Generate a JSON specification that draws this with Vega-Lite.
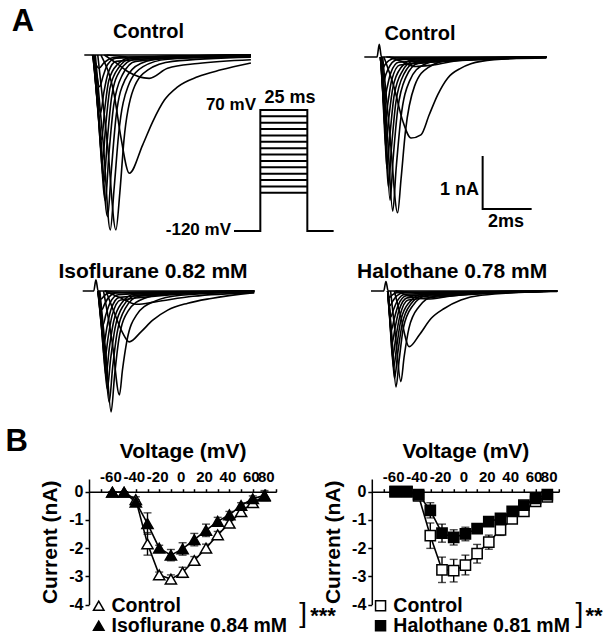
{
"$schema":"https://vega.github.io/schema/vega-lite/v6.json",
"autosize":{"type":"pad"},
"padding":{"left":5,"top":0,"right":0,"bottom":0},
"background":"white",
"bounds":"flush",
"spacing":59,
"resolve":{"scale":{"fill":"independent"},"legend":{"fill":"independent"}},
"config":{"font":"Liberation Sans","view":{"stroke":null},"text":{"font":"Liberation Sans","color":"black"},
"axis":{"labelFont":"Liberation Sans","titleFont":"Liberation Sans","labelFontWeight":"bold","titleFontWeight":"bold","labelColor":"black","titleColor":"black","domainColor":"black","tickColor":"black","grid":false,"domainWidth":1.5,"tickWidth":1.5}},
"datasets":{
"cL":[
{"v":-60,"t":0,"i":0},{"v":-60,"t":6.8,"i":0},
{"v":-50,"t":0.9,"i":0},{"v":-50,"t":2.0,"i":-0.04},{"v":-50,"t":4,"i":-0.05},{"v":-50,"t":6.8,"i":-0.03},
{"v":-40,"t":0.82,"i":0},{"v":-40,"t":1.3,"i":-0.15},{"v":-40,"t":1.77,"i":-0.31},{"v":-40,"t":2.65,"i":-0.44},{"v":-40,"t":3.4,"i":-0.25},{"v":-40,"t":4.63,"i":-0.16},{"v":-40,"t":6.8,"i":-0.09},
{"v":-30,"t":0.68,"i":0},{"v":-30,"t":1.22,"i":-0.75},{"v":-30,"t":1.5,"i":-1.57},{"v":-30,"t":1.84,"i":-2.23},{"v":-30,"t":2.38,"i":-1.7},{"v":-30,"t":2.79,"i":-1.26},{"v":-30,"t":3.27,"i":-0.85},{"v":-30,"t":3.81,"i":-0.6},{"v":-30,"t":4.63,"i":-0.41},{"v":-30,"t":5.58,"i":-0.28},{"v":-30,"t":6.8,"i":-0.15},
{"v":-20,"t":0.55,"i":0},{"v":-20,"t":0.95,"i":-1.7},{"v":-20,"t":1.29,"i":-3.3},{"v":-20,"t":1.45,"i":-2.6},{"v":-20,"t":1.62,"i":-1.6},{"v":-20,"t":2.0,"i":-0.65},{"v":-20,"t":2.6,"i":-0.28},{"v":-20,"t":3.6,"i":-0.12},{"v":-20,"t":6.8,"i":-0.04},
{"v":-10,"t":0.45,"i":0},{"v":-10,"t":0.78,"i":-1.7},{"v":-10,"t":1.06,"i":-3.3},{"v":-10,"t":1.22,"i":-2.5},{"v":-10,"t":1.4,"i":-1.5},{"v":-10,"t":1.78,"i":-0.6},{"v":-10,"t":2.4,"i":-0.22},{"v":-10,"t":3.4,"i":-0.08},{"v":-10,"t":6.8,"i":-0.02},
{"v":0,"t":0.4,"i":0},{"v":0,"t":0.68,"i":-1.6},{"v":0,"t":0.95,"i":-3.05},{"v":0,"t":1.1,"i":-2.2},{"v":0,"t":1.3,"i":-1.15},{"v":0,"t":1.65,"i":-0.48},{"v":0,"t":2.3,"i":-0.16},{"v":0,"t":3.4,"i":-0.05},{"v":0,"t":6.8,"i":0},
{"v":10,"t":0.38,"i":0},{"v":10,"t":0.62,"i":-1.4},{"v":10,"t":0.86,"i":-2.75},{"v":10,"t":1.0,"i":-1.9},{"v":10,"t":1.2,"i":-0.95},{"v":10,"t":1.55,"i":-0.38},{"v":10,"t":2.1,"i":-0.12},{"v":10,"t":6.8,"i":0},
{"v":20,"t":0.37,"i":0},{"v":20,"t":0.58,"i":-1.2},{"v":20,"t":0.8,"i":-2.4},{"v":20,"t":0.94,"i":-1.6},{"v":20,"t":1.12,"i":-0.78},{"v":20,"t":1.45,"i":-0.3},{"v":20,"t":2.0,"i":-0.09},{"v":20,"t":6.8,"i":0},
{"v":30,"t":0.36,"i":0},{"v":30,"t":0.55,"i":-1.0},{"v":30,"t":0.74,"i":-2.0},{"v":30,"t":0.88,"i":-1.3},{"v":30,"t":1.05,"i":-0.62},{"v":30,"t":1.4,"i":-0.24},{"v":30,"t":1.9,"i":-0.07},{"v":30,"t":6.8,"i":0},
{"v":40,"t":0.35,"i":0},{"v":40,"t":0.52,"i":-0.8},{"v":40,"t":0.7,"i":-1.6},{"v":40,"t":0.84,"i":-1.0},{"v":40,"t":1.0,"i":-0.48},{"v":40,"t":1.35,"i":-0.18},{"v":40,"t":1.9,"i":-0.05},{"v":40,"t":6.8,"i":0},
{"v":50,"t":0.34,"i":0},{"v":50,"t":0.5,"i":-0.55},{"v":50,"t":0.66,"i":-1.1},{"v":50,"t":0.8,"i":-0.7},{"v":50,"t":0.98,"i":-0.33},{"v":50,"t":1.3,"i":-0.12},{"v":50,"t":6.8,"i":0},
{"v":60,"t":0.34,"i":0},{"v":60,"t":0.48,"i":-0.3},{"v":60,"t":0.62,"i":-0.6},{"v":60,"t":0.78,"i":-0.38},{"v":60,"t":0.95,"i":-0.18},{"v":60,"t":1.3,"i":-0.06},{"v":60,"t":6.8,"i":0},
{"v":70,"t":0.33,"i":0},{"v":70,"t":0.6,"i":-0.25},{"v":70,"t":0.8,"i":-0.15},{"v":70,"t":1.2,"i":-0.05},{"v":70,"t":6.8,"i":0}
],
"cR":[
{"v":-60,"t":0,"i":0},{"v":-60,"t":0.52,"i":0},{"v":-60,"t":0.61,"i":0.24},{"v":-60,"t":0.7,"i":0},{"v":-60,"t":7.43,"i":0},
{"v":-50,"t":0.9,"i":0},{"v":-50,"t":2,"i":-0.03},{"v":-50,"t":7.43,"i":-0.01},
{"v":-40,"t":1.0,"i":0},{"v":-40,"t":1.5,"i":-0.08},{"v":-40,"t":2.1,"i":-0.18},{"v":-40,"t":2.8,"i":-0.15},{"v":-40,"t":4.0,"i":-0.06},{"v":-40,"t":7.43,"i":-0.02},
{"v":-30,"t":0.8,"i":0},{"v":-30,"t":1.22,"i":-0.58},{"v":-30,"t":1.57,"i":-1.21},{"v":-30,"t":1.91,"i":-1.53},{"v":-30,"t":2.31,"i":-1.47},{"v":-30,"t":2.65,"i":-1.09},{"v":-30,"t":3.0,"i":-0.71},{"v":-30,"t":3.4,"i":-0.4},{"v":-30,"t":3.95,"i":-0.21},{"v":-30,"t":4.35,"i":-0.13},{"v":-30,"t":5.3,"i":-0.05},{"v":-30,"t":7.43,"i":-0.01},
{"v":-20,"t":0.75,"i":0},{"v":-20,"t":1.05,"i":-1.5},{"v":-20,"t":1.36,"i":-2.94},{"v":-20,"t":1.5,"i":-2.3},{"v":-20,"t":1.68,"i":-1.4},{"v":-20,"t":2.05,"i":-0.55},{"v":-20,"t":2.6,"i":-0.2},{"v":-20,"t":3.5,"i":-0.06},{"v":-20,"t":7.43,"i":0},
{"v":-10,"t":0.72,"i":0},{"v":-10,"t":0.95,"i":-1.5},{"v":-10,"t":1.16,"i":-2.91},{"v":-10,"t":1.3,"i":-2.1},{"v":-10,"t":1.48,"i":-1.2},{"v":-10,"t":1.85,"i":-0.45},{"v":-10,"t":2.4,"i":-0.15},{"v":-10,"t":3.3,"i":-0.04},{"v":-10,"t":7.43,"i":0},
{"v":0,"t":0.7,"i":0},{"v":0,"t":0.88,"i":-1.35},{"v":0,"t":1.05,"i":-2.7},{"v":0,"t":1.18,"i":-1.9},{"v":0,"t":1.36,"i":-1.0},{"v":0,"t":1.7,"i":-0.38},{"v":0,"t":2.2,"i":-0.12},{"v":0,"t":7.43,"i":0},
{"v":10,"t":0.69,"i":0},{"v":10,"t":0.84,"i":-1.2},{"v":10,"t":0.98,"i":-2.45},{"v":10,"t":1.11,"i":-1.7},{"v":10,"t":1.29,"i":-0.85},{"v":10,"t":1.62,"i":-0.32},{"v":10,"t":2.1,"i":-0.1},{"v":10,"t":7.43,"i":0},
{"v":20,"t":0.68,"i":0},{"v":20,"t":0.81,"i":-1.05},{"v":20,"t":0.92,"i":-2.1},{"v":20,"t":1.05,"i":-1.45},{"v":20,"t":1.22,"i":-0.72},{"v":20,"t":1.55,"i":-0.27},{"v":20,"t":2.0,"i":-0.08},{"v":20,"t":7.43,"i":0},
{"v":30,"t":0.67,"i":0},{"v":30,"t":0.78,"i":-0.85},{"v":30,"t":0.87,"i":-1.7},{"v":30,"t":1.0,"i":-1.15},{"v":30,"t":1.17,"i":-0.57},{"v":30,"t":1.5,"i":-0.2},{"v":30,"t":1.95,"i":-0.06},{"v":30,"t":7.43,"i":0},
{"v":40,"t":0.66,"i":0},{"v":40,"t":0.75,"i":-0.65},{"v":40,"t":0.83,"i":-1.3},{"v":40,"t":0.96,"i":-0.88},{"v":40,"t":1.12,"i":-0.43},{"v":40,"t":1.45,"i":-0.15},{"v":40,"t":7.43,"i":0},
{"v":50,"t":0.66,"i":0},{"v":50,"t":0.73,"i":-0.45},{"v":50,"t":0.79,"i":-0.9},{"v":50,"t":0.92,"i":-0.6},{"v":50,"t":1.08,"i":-0.3},{"v":50,"t":1.4,"i":-0.1},{"v":50,"t":7.43,"i":0},
{"v":60,"t":0.65,"i":0},{"v":60,"t":0.71,"i":-0.25},{"v":60,"t":0.76,"i":-0.5},{"v":60,"t":0.88,"i":-0.33},{"v":60,"t":1.05,"i":-0.16},{"v":60,"t":1.35,"i":-0.05},{"v":60,"t":7.43,"i":0},
{"v":70,"t":0.65,"i":0},{"v":70,"t":0.73,"i":-0.22},{"v":70,"t":0.85,"i":-0.14},{"v":70,"t":1.0,"i":-0.07},{"v":70,"t":1.3,"i":-0.02},{"v":70,"t":7.43,"i":0}
],
"iso":[
{"v":-60,"t":0,"i":0},{"v":-60,"t":0.45,"i":0},{"v":-60,"t":0.54,"i":0.21},{"v":-60,"t":0.63,"i":0},{"v":-60,"t":7.0,"i":0},
{"v":-50,"t":0.9,"i":0},{"v":-50,"t":2,"i":-0.04},{"v":-50,"t":7,"i":-0.02},
{"v":-40,"t":0.9,"i":0},{"v":-40,"t":1.5,"i":-0.12},{"v":-40,"t":2.2,"i":-0.25},{"v":-40,"t":3.0,"i":-0.2},{"v":-40,"t":4.5,"i":-0.1},{"v":-40,"t":7.0,"i":-0.03},
{"v":-30,"t":0.95,"i":0},{"v":-30,"t":1.29,"i":-0.41},{"v":-30,"t":1.63,"i":-0.79},{"v":-30,"t":1.9,"i":-0.96},{"v":-30,"t":2.38,"i":-0.77},{"v":-30,"t":2.86,"i":-0.55},{"v":-30,"t":3.47,"i":-0.36},{"v":-30,"t":4.29,"i":-0.23},{"v":-30,"t":5.24,"i":-0.14},{"v":-30,"t":7.0,"i":-0.03},
{"v":-20,"t":0.85,"i":0},{"v":-20,"t":1.2,"i":-0.95},{"v":-20,"t":1.5,"i":-1.96},{"v":-20,"t":1.62,"i":-1.5},{"v":-20,"t":1.8,"i":-0.95},{"v":-20,"t":2.2,"i":-0.45},{"v":-20,"t":2.9,"i":-0.2},{"v":-20,"t":4.0,"i":-0.08},{"v":-20,"t":7.0,"i":-0.02},
{"v":-10,"t":0.7,"i":0},{"v":-10,"t":0.95,"i":-1.2},{"v":-10,"t":1.16,"i":-2.28},{"v":-10,"t":1.3,"i":-1.6},{"v":-10,"t":1.48,"i":-0.9},{"v":-10,"t":1.85,"i":-0.38},{"v":-10,"t":2.5,"i":-0.14},{"v":-10,"t":3.5,"i":-0.05},{"v":-10,"t":7.0,"i":0},
{"v":0,"t":0.66,"i":0},{"v":0,"t":0.88,"i":-1.05},{"v":0,"t":1.08,"i":-2.1},{"v":0,"t":1.22,"i":-1.45},{"v":0,"t":1.4,"i":-0.8},{"v":0,"t":1.75,"i":-0.32},{"v":0,"t":2.3,"i":-0.1},{"v":0,"t":7.0,"i":0},
{"v":10,"t":0.64,"i":0},{"v":10,"t":0.83,"i":-0.92},{"v":10,"t":1.0,"i":-1.85},{"v":10,"t":1.14,"i":-1.28},{"v":10,"t":1.32,"i":-0.7},{"v":10,"t":1.67,"i":-0.27},{"v":10,"t":2.2,"i":-0.08},{"v":10,"t":7.0,"i":0},
{"v":20,"t":0.63,"i":0},{"v":20,"t":0.79,"i":-0.8},{"v":20,"t":0.95,"i":-1.6},{"v":20,"t":1.08,"i":-1.1},{"v":20,"t":1.26,"i":-0.58},{"v":20,"t":1.6,"i":-0.22},{"v":20,"t":2.1,"i":-0.06},{"v":20,"t":7.0,"i":0},
{"v":30,"t":0.62,"i":0},{"v":30,"t":0.76,"i":-0.65},{"v":30,"t":0.9,"i":-1.3},{"v":30,"t":1.03,"i":-0.9},{"v":30,"t":1.2,"i":-0.46},{"v":30,"t":1.55,"i":-0.17},{"v":30,"t":7.0,"i":0},
{"v":40,"t":0.62,"i":0},{"v":40,"t":0.74,"i":-0.5},{"v":40,"t":0.86,"i":-1.0},{"v":40,"t":0.99,"i":-0.68},{"v":40,"t":1.16,"i":-0.34},{"v":40,"t":1.5,"i":-0.12},{"v":40,"t":7.0,"i":0},
{"v":50,"t":0.62,"i":0},{"v":50,"t":0.72,"i":-0.33},{"v":50,"t":0.82,"i":-0.65},{"v":50,"t":0.95,"i":-0.44},{"v":50,"t":1.12,"i":-0.22},{"v":50,"t":1.45,"i":-0.07},{"v":50,"t":7.0,"i":0},
{"v":60,"t":0.62,"i":0},{"v":60,"t":0.7,"i":-0.18},{"v":60,"t":0.78,"i":-0.35},{"v":60,"t":0.9,"i":-0.24},{"v":60,"t":1.08,"i":-0.11},{"v":60,"t":1.4,"i":-0.03},{"v":60,"t":7.0,"i":0},
{"v":70,"t":0.62,"i":0},{"v":70,"t":0.75,"i":-0.15},{"v":70,"t":0.88,"i":-0.09},{"v":70,"t":1.05,"i":-0.04},{"v":70,"t":7.0,"i":0}
],
"hal":[
{"v":-60,"t":0,"i":0},{"v":-60,"t":0.52,"i":0},{"v":-60,"t":0.61,"i":0.18},{"v":-60,"t":0.7,"i":0},{"v":-60,"t":7.6,"i":0},
{"v":-50,"t":1.0,"i":0},{"v":-50,"t":2.2,"i":-0.03},{"v":-50,"t":7.6,"i":-0.01},
{"v":-40,"t":1.0,"i":0},{"v":-40,"t":1.6,"i":-0.1},{"v":-40,"t":2.3,"i":-0.15},{"v":-40,"t":3.2,"i":-0.1},{"v":-40,"t":4.5,"i":-0.04},{"v":-40,"t":7.6,"i":0},
{"v":-30,"t":0.95,"i":0},{"v":-30,"t":1.2,"i":-0.45},{"v":-30,"t":1.56,"i":-1.05},{"v":-30,"t":1.97,"i":-0.83},{"v":-30,"t":2.45,"i":-0.52},{"v":-30,"t":2.99,"i":-0.33},{"v":-30,"t":3.67,"i":-0.17},{"v":-30,"t":4.49,"i":-0.08},{"v":-30,"t":7.6,"i":0},
{"v":-20,"t":0.8,"i":0},{"v":-20,"t":1.0,"i":-0.85},{"v":-20,"t":1.22,"i":-1.71},{"v":-20,"t":1.35,"i":-1.25},{"v":-20,"t":1.55,"i":-0.7},{"v":-20,"t":1.95,"i":-0.3},{"v":-20,"t":2.6,"i":-0.1},{"v":-20,"t":7.6,"i":0},
{"v":-10,"t":0.7,"i":0},{"v":-10,"t":0.86,"i":-0.9},{"v":-10,"t":1.02,"i":-1.81},{"v":-10,"t":1.15,"i":-1.3},{"v":-10,"t":1.32,"i":-0.7},{"v":-10,"t":1.7,"i":-0.28},{"v":-10,"t":2.3,"i":-0.08},{"v":-10,"t":7.6,"i":0},
{"v":0,"t":0.69,"i":0},{"v":0,"t":0.83,"i":-0.82},{"v":0,"t":0.96,"i":-1.65},{"v":0,"t":1.09,"i":-1.18},{"v":0,"t":1.27,"i":-0.63},{"v":0,"t":1.62,"i":-0.25},{"v":0,"t":2.2,"i":-0.07},{"v":0,"t":7.6,"i":0},
{"v":10,"t":0.68,"i":0},{"v":10,"t":0.8,"i":-0.72},{"v":10,"t":0.92,"i":-1.45},{"v":10,"t":1.05,"i":-1.04},{"v":10,"t":1.22,"i":-0.55},{"v":10,"t":1.57,"i":-0.21},{"v":10,"t":2.1,"i":-0.06},{"v":10,"t":7.6,"i":0},
{"v":20,"t":0.68,"i":0},{"v":20,"t":0.78,"i":-0.62},{"v":20,"t":0.88,"i":-1.25},{"v":20,"t":1.01,"i":-0.89},{"v":20,"t":1.18,"i":-0.47},{"v":20,"t":1.52,"i":-0.17},{"v":20,"t":7.6,"i":0},
{"v":30,"t":0.68,"i":0},{"v":30,"t":0.77,"i":-0.5},{"v":30,"t":0.85,"i":-1.0},{"v":30,"t":0.98,"i":-0.7},{"v":30,"t":1.14,"i":-0.37},{"v":30,"t":1.48,"i":-0.13},{"v":30,"t":7.6,"i":0},
{"v":40,"t":0.68,"i":0},{"v":40,"t":0.75,"i":-0.37},{"v":40,"t":0.82,"i":-0.75},{"v":40,"t":0.95,"i":-0.52},{"v":40,"t":1.11,"i":-0.27},{"v":40,"t":1.44,"i":-0.09},{"v":40,"t":7.6,"i":0},
{"v":50,"t":0.68,"i":0},{"v":50,"t":0.74,"i":-0.25},{"v":50,"t":0.79,"i":-0.5},{"v":50,"t":0.92,"i":-0.35},{"v":50,"t":1.08,"i":-0.18},{"v":50,"t":1.4,"i":-0.06},{"v":50,"t":7.6,"i":0},
{"v":60,"t":0.68,"i":0},{"v":60,"t":0.72,"i":-0.14},{"v":60,"t":0.76,"i":-0.28},{"v":60,"t":0.89,"i":-0.19},{"v":60,"t":1.05,"i":-0.09},{"v":60,"t":1.35,"i":-0.03},{"v":60,"t":7.6,"i":0},
{"v":70,"t":0.68,"i":0},{"v":70,"t":0.75,"i":-0.12},{"v":70,"t":0.88,"i":-0.07},{"v":70,"t":1.05,"i":-0.03},{"v":70,"t":7.6,"i":0}
],
"prot":[{"k":0,"t":0,"mv":-120},{"k":1,"t":14,"mv":-120},{"k":2,"t":14,"mv":70},{"k":3,"t":39,"mv":70},{"k":4,"t":39,"mv":-120},{"k":5,"t":53,"mv":-120}],
"steps":[{"mv":-60},{"mv":-50},{"mv":-40},{"mv":-30},{"mv":-20},{"mv":-10},{"mv":0},{"mv":10},{"mv":20},{"mv":30},{"mv":40},{"mv":50},{"mv":60}],
"sbar":[{"k":0,"t":4.83,"i":-1.868},{"k":1,"t":4.83,"i":-2.868},{"k":2,"t":6.83,"i":-2.868}],
"ivI":[
{"s":"Control","v":-60,"i":-0.02,"e":0.02},{"s":"Control","v":-50,"i":-0.02,"e":0.02},{"s":"Control","v":-40,"i":-0.28,"e":0.1},{"s":"Control","v":-30,"i":-1.85,"e":0.4},{"s":"Control","v":-20,"i":-2.95,"e":0.1},{"s":"Control","v":-10,"i":-3.1,"e":0.15},{"s":"Control","v":0,"i":-2.86,"e":0.18},{"s":"Control","v":10,"i":-2.44,"e":0.14},{"s":"Control","v":20,"i":-2.0,"e":0.14},{"s":"Control","v":30,"i":-1.53,"e":0.12},{"s":"Control","v":40,"i":-1.12,"e":0.1},{"s":"Control","v":50,"i":-0.71,"e":0.1},{"s":"Control","v":60,"i":-0.39,"e":0.1},{"s":"Control","v":70,"i":-0.16,"e":0.15},
{"s":"Isoflurane 0.84 mM","v":-60,"i":-0.02,"e":0.02},{"s":"Isoflurane 0.84 mM","v":-50,"i":-0.02,"e":0.02},{"s":"Isoflurane 0.84 mM","v":-40,"i":-0.37,"e":0.08},{"s":"Isoflurane 0.84 mM","v":-30,"i":-1.13,"e":0.38},{"s":"Isoflurane 0.84 mM","v":-20,"i":-2.0,"e":0.1},{"s":"Isoflurane 0.84 mM","v":-10,"i":-2.25,"e":0.2},{"s":"Isoflurane 0.84 mM","v":0,"i":-2.03,"e":0.22},{"s":"Isoflurane 0.84 mM","v":10,"i":-1.7,"e":0.22},{"s":"Isoflurane 0.84 mM","v":20,"i":-1.37,"e":0.22},{"s":"Isoflurane 0.84 mM","v":30,"i":-1.05,"e":0.14},{"s":"Isoflurane 0.84 mM","v":40,"i":-0.82,"e":0.12},{"s":"Isoflurane 0.84 mM","v":50,"i":-0.49,"e":0.1},{"s":"Isoflurane 0.84 mM","v":60,"i":-0.25,"e":0.1},{"s":"Isoflurane 0.84 mM","v":70,"i":-0.13,"e":0.17}
],
"ivH":[
{"s":"Control","v":-60,"i":0,"e":0.02},{"s":"Control","v":-50,"i":0,"e":0.02},{"s":"Control","v":-40,"i":-0.15,"e":0.08},{"s":"Control","v":-30,"i":-1.56,"e":0.45},{"s":"Control","v":-20,"i":-2.77,"e":0.45},{"s":"Control","v":-10,"i":-2.8,"e":0.4},{"s":"Control","v":0,"i":-2.6,"e":0.35},{"s":"Control","v":10,"i":-2.2,"e":0.33},{"s":"Control","v":20,"i":-1.79,"e":0.25},{"s":"Control","v":30,"i":-1.35,"e":0.2},{"s":"Control","v":40,"i":-0.96,"e":0.15},{"s":"Control","v":50,"i":-0.7,"e":0.1},{"s":"Control","v":60,"i":-0.34,"e":0.1},{"s":"Control","v":70,"i":-0.18,"e":0.08},
{"s":"Halothane 0.81 mM","v":-60,"i":0,"e":0.02},{"s":"Halothane 0.81 mM","v":-50,"i":0,"e":0.02},{"s":"Halothane 0.81 mM","v":-40,"i":-0.1,"e":0.06},{"s":"Halothane 0.81 mM","v":-30,"i":-0.66,"e":0.27},{"s":"Halothane 0.81 mM","v":-20,"i":-1.47,"e":0.32},{"s":"Halothane 0.81 mM","v":-10,"i":-1.62,"e":0.27},{"s":"Halothane 0.81 mM","v":0,"i":-1.5,"e":0.24},{"s":"Halothane 0.81 mM","v":10,"i":-1.31,"e":0.15},{"s":"Halothane 0.81 mM","v":20,"i":-1.06,"e":0.1},{"s":"Halothane 0.81 mM","v":30,"i":-0.95,"e":0.1},{"s":"Halothane 0.81 mM","v":40,"i":-0.7,"e":0.08},{"s":"Halothane 0.81 mM","v":50,"i":-0.48,"e":0.08},{"s":"Halothane 0.81 mM","v":60,"i":-0.24,"e":0.08},{"s":"Halothane 0.81 mM","v":70,"i":-0.1,"e":0.06}
]
},
"vconcat":[
{
"width":468,"height":420,
"resolve":{"scale":{"x":"independent","y":"independent"}},
"layer":[
{"layer":[
 {"data":{"name":"cL"},"mark":{"type":"line","interpolate":"monotone","color":"black","strokeWidth":1.6},
  "encoding":{"x":{"field":"t","type":"quantitative","scale":{"domain":[0.192,19.294],"nice":false,"zero":false},"axis":null},
  "y":{"field":"i","type":"quantitative","scale":{"domain":[-6.887,1.038],"nice":false,"zero":false},"axis":null},
  "detail":{"field":"v","type":"nominal"}}},
 {"data":{"values":[{}]},"mark":{"type":"text","text":"Control","fontSize":20,"fontWeight":"bold","baseline":"middle","align":"center"},
  "encoding":{"x":{"datum":2.62,"type":"quantitative","axis":null},"y":{"datum":0.44,"type":"quantitative","axis":null}}},
 {"data":{"values":[{}]},"mark":{"type":"text","text":"A","fontSize":31,"fontWeight":"bold","baseline":"middle","align":"center"},
  "encoding":{"x":{"datum":-2.5,"type":"quantitative","axis":null},"y":{"datum":0.62,"type":"quantitative","axis":null}}}
]},
{"layer":[
 {"data":{"name":"prot"},"mark":{"type":"line","color":"black","strokeWidth":2},
  "encoding":{"x":{"field":"t","type":"quantitative","scale":{"domain":[-77.13,171.81],"nice":false,"zero":false},"axis":null},
  "y":{"field":"mv","type":"quantitative","scale":{"domain":[-416.7,242.7],"nice":false,"zero":false},"axis":null},
  "order":{"field":"k","type":"quantitative"}}},
 {"data":{"name":"steps"},"mark":{"type":"rule","color":"black","strokeWidth":2},
  "encoding":{"x":{"datum":14,"type":"quantitative","axis":null},"x2":{"datum":39},"y":{"field":"mv","type":"quantitative","axis":null}}},
 {"data":{"values":[{}]},"mark":{"type":"text","text":"70 mV","fontSize":17,"fontWeight":"bold","baseline":"middle","align":"right"},
  "encoding":{"x":{"datum":11.7,"type":"quantitative","axis":null},"y":{"datum":77.8,"type":"quantitative","axis":null}}},
 {"data":{"values":[{}]},"mark":{"type":"text","text":"25 ms","fontSize":18,"fontWeight":"bold","baseline":"middle","align":"center"},
  "encoding":{"x":{"datum":29.8,"type":"quantitative","axis":null},"y":{"datum":88.8,"type":"quantitative","axis":null}}},
 {"data":{"values":[{}]},"mark":{"type":"text","text":"-120 mV","fontSize":17,"fontWeight":"bold","baseline":"middle","align":"right"},
  "encoding":{"x":{"datum":-1.6,"type":"quantitative","axis":null},"y":{"datum":-118.4,"type":"quantitative","axis":null}}}
]},
{"layer":[
 {"data":{"name":"cR"},"mark":{"type":"line","interpolate":"monotone","color":"black","strokeWidth":1.6},
  "encoding":{"x":{"field":"t","type":"quantitative","scale":{"domain":[-11.237,7.865],"nice":false,"zero":false},"axis":null},
  "y":{"field":"i","type":"quantitative","scale":{"domain":[-6.849,1.075],"nice":false,"zero":false},"axis":null},
  "detail":{"field":"v","type":"nominal"}}},
 {"data":{"name":"sbar"},"mark":{"type":"line","color":"black","strokeWidth":2},
  "encoding":{"x":{"field":"t","type":"quantitative","axis":null},"y":{"field":"i","type":"quantitative","axis":null},"order":{"field":"k","type":"quantitative"}}},
 {"data":{"values":[{}]},"mark":{"type":"text","text":"Control","fontSize":20,"fontWeight":"bold","baseline":"middle","align":"center"},
  "encoding":{"x":{"datum":2.27,"type":"quantitative","axis":null},"y":{"datum":0.434,"type":"quantitative","axis":null}}},
 {"data":{"values":[{}]},"mark":{"type":"text","text":"1 nA","fontSize":18,"fontWeight":"bold","baseline":"middle","align":"right"},
  "encoding":{"x":{"datum":4.68,"type":"quantitative","axis":null},"y":{"datum":-2.51,"type":"quantitative","axis":null}}},
 {"data":{"values":[{}]},"mark":{"type":"text","text":"2ms","fontSize":18,"fontWeight":"bold","baseline":"middle","align":"center"},
  "encoding":{"x":{"datum":5.78,"type":"quantitative","axis":null},"y":{"datum":-3.11,"type":"quantitative","axis":null}}}
]},
{"layer":[
 {"data":{"name":"iso"},"mark":{"type":"line","interpolate":"monotone","color":"black","strokeWidth":1.6},
  "encoding":{"x":{"field":"t","type":"quantitative","scale":{"domain":[0.257,19.359],"nice":false,"zero":false},"axis":null},
  "y":{"field":"i","type":"quantitative","scale":{"domain":[-2.434,5.491],"nice":false,"zero":false},"axis":null},
  "detail":{"field":"v","type":"nominal"}}},
 {"data":{"values":[{}]},"mark":{"type":"text","text":"Isoflurane 0.82 mM","fontSize":21,"fontWeight":"bold","baseline":"middle","align":"center"},
  "encoding":{"x":{"datum":2.87,"type":"quantitative","axis":null},"y":{"datum":0.35,"type":"quantitative","axis":null}}}
]},
{"layer":[
 {"data":{"name":"hal"},"mark":{"type":"line","interpolate":"monotone","color":"black","strokeWidth":1.6},
  "encoding":{"x":{"field":"t","type":"quantitative","scale":{"domain":[-11.51,7.592],"nice":false,"zero":false},"axis":null},
  "y":{"field":"i","type":"quantitative","scale":{"domain":[-2.434,5.491],"nice":false,"zero":false},"axis":null},
  "detail":{"field":"v","type":"nominal"}}},
 {"data":{"values":[{}]},"mark":{"type":"text","text":"Halothane 0.78 mM","fontSize":21,"fontWeight":"bold","baseline":"middle","align":"center"},
  "encoding":{"x":{"datum":3.31,"type":"quantitative","axis":null},"y":{"datum":0.35,"type":"quantitative","axis":null}}}
]}
]
},
{
"bounds":"flush",
"spacing":94.8,
"resolve":{"scale":{"fill":"independent"},"legend":{"fill":"independent"}},
"hconcat":[
{
"width":187.2,"height":125.5,
"layer":[
{
"data":{"name":"ivI"},
"encoding":{
 "x":{"field":"v","type":"quantitative","scale":{"domain":[-80,80],"nice":false,"zero":false},
   "axis":{"orient":"top","offset":-12.7,"values":[-70,-60,-50,-40,-30,-20,-10,0,10,20,30,40,50,60,70,80],"labelExpr":"(datum.value % 20 == 0 && datum.value >= -60) ? ''+datum.value : ''","labelFontSize":15,"labelOffset":-2,"tickSize":3,"labelPadding":4,"title":"Voltage (mV)","titleFontSize":21,"titlePadding":8,"labelOverlap":false}},
 "y":{"field":"i","type":"quantitative","scale":{"domain":[-4,0.45],"nice":false,"zero":false},
   "axis":{"values":[-4,-3,-2,-1,0],"labelExpr":"''+datum.value","labelFontSize":16,"tickSize":4,"labelPadding":2,"title":"Current (nA)","titleFontSize":21,"titlePadding":8}}
},
"layer":[
 {"mark":{"type":"line","color":"black","strokeWidth":1.6},"encoding":{"detail":{"field":"s","type":"nominal"}}},
 {"mark":{"type":"errorbar","color":"black","thickness":1.4,"ticks":{"size":8,"thickness":1.4}},
  "encoding":{"yError":{"field":"e"},"detail":{"field":"s","type":"nominal"}}},
 {"mark":{"type":"point","shape":"triangle-up","filled":true,"size":125,"stroke":"black","strokeWidth":1.5,"opacity":1},
  "encoding":{"fill":{"field":"s","type":"nominal","scale":{"domain":["Control","Isoflurane 0.84 mM"],"range":["white","black"]},
   "legend":{"orient":"none","legendX":0,"legendY":117,"title":null,"labelFontSize":19.5,"labelFontWeight":"bold","labelColor":"black","labelLimit":400,"symbolType":"triangle-up","symbolSize":110,"symbolStrokeColor":"black","symbolStrokeWidth":1.5,"rowPadding":-6,"labelOffset":3,"padding":0}}}}
]
},
 {"data":{"values":[{}]},"mark":{"type":"text","text":"B","fontSize":31,"fontWeight":"bold","baseline":"middle","align":"center"},
  "encoding":{"x":{"datum":-141.9,"type":"quantitative","axis":{"orient":"top","offset":-12.7,"values":[-70,-60,-50,-40,-30,-20,-10,0,10,20,30,40,50,60,70,80],"labelExpr":"(datum.value % 20 == 0 && datum.value >= -60) ? ''+datum.value : ''","labelFontSize":15,"labelOffset":-2,"tickSize":3,"labelPadding":4,"title":"Voltage (mV)","titleFontSize":21,"titlePadding":8,"labelOverlap":false}},
  "y":{"datum":1.75,"type":"quantitative","axis":{"values":[-4,-3,-2,-1,0],"labelExpr":"''+datum.value","labelFontSize":16,"tickSize":4,"labelPadding":2,"title":"Current (nA)","titleFontSize":21,"titlePadding":8}}}},
 {"data":{"values":[{}]},"mark":{"type":"text","text":"]","fontSize":28,"baseline":"middle","align":"center"},
  "encoding":{"x":{"datum":103,"type":"quantitative","axis":{"orient":"top","offset":-12.7,"values":[-70,-60,-50,-40,-30,-20,-10,0,10,20,30,40,50,60,70,80],"labelExpr":"(datum.value % 20 == 0 && datum.value >= -60) ? ''+datum.value : ''","labelFontSize":15,"labelOffset":-2,"tickSize":3,"labelPadding":4,"title":"Voltage (mV)","titleFontSize":21,"titlePadding":8,"labelOverlap":false}},
  "y":{"datum":-4.35,"type":"quantitative","axis":{"values":[-4,-3,-2,-1,0],"labelExpr":"''+datum.value","labelFontSize":16,"tickSize":4,"labelPadding":2,"title":"Current (nA)","titleFontSize":21,"titlePadding":8}}}},
 {"data":{"values":[{}]},"mark":{"type":"text","text":"***","fontSize":22,"fontWeight":"bold","baseline":"middle","align":"center"},
  "encoding":{"x":{"datum":120,"type":"quantitative","axis":{"orient":"top","offset":-12.7,"values":[-70,-60,-50,-40,-30,-20,-10,0,10,20,30,40,50,60,70,80],"labelExpr":"(datum.value % 20 == 0 && datum.value >= -60) ? ''+datum.value : ''","labelFontSize":15,"labelOffset":-2,"tickSize":3,"labelPadding":4,"title":"Voltage (mV)","titleFontSize":21,"titlePadding":8,"labelOverlap":false}},
  "y":{"datum":-4.4,"type":"quantitative","axis":{"values":[-4,-3,-2,-1,0],"labelExpr":"''+datum.value","labelFontSize":16,"tickSize":4,"labelPadding":2,"title":"Current (nA)","titleFontSize":21,"titlePadding":8}}}}
]
},
{
"width":187.2,"height":125.5,
"layer":[
{
"data":{"name":"ivH"},
"encoding":{
 "x":{"field":"v","type":"quantitative","scale":{"domain":[-80,80],"nice":false,"zero":false},
   "axis":{"orient":"top","offset":-12.7,"values":[-70,-60,-50,-40,-30,-20,-10,0,10,20,30,40,50,60,70,80],"labelExpr":"(datum.value % 20 == 0 && datum.value >= -60) ? ''+datum.value : ''","labelFontSize":15,"labelOffset":-2,"tickSize":3,"labelPadding":4,"title":"Voltage (mV)","titleFontSize":21,"titlePadding":8,"labelOverlap":false}},
 "y":{"field":"i","type":"quantitative","scale":{"domain":[-4,0.45],"nice":false,"zero":false},
   "axis":{"values":[-4,-3,-2,-1,0],"labelExpr":"''+datum.value","labelFontSize":16,"tickSize":4,"labelPadding":2,"title":"Current (nA)","titleFontSize":21,"titlePadding":8}}
},
"layer":[
 {"mark":{"type":"line","color":"black","strokeWidth":1.6},"encoding":{"detail":{"field":"s","type":"nominal"}}},
 {"mark":{"type":"errorbar","color":"black","thickness":1.4,"ticks":{"size":8,"thickness":1.4}},
  "encoding":{"yError":{"field":"e"},"detail":{"field":"s","type":"nominal"}}},
 {"mark":{"type":"point","shape":"square","filled":true,"size":105,"stroke":"black","strokeWidth":1.5,"opacity":1},
  "encoding":{"fill":{"field":"s","type":"nominal","scale":{"domain":["Control","Halothane 0.81 mM"],"range":["white","black"]},
   "legend":{"orient":"none","legendX":-1,"legendY":117,"title":null,"labelFontSize":19.5,"labelFontWeight":"bold","labelColor":"black","labelLimit":400,"symbolType":"square","symbolSize":100,"symbolStrokeColor":"black","symbolStrokeWidth":1.5,"rowPadding":-6,"labelOffset":3,"padding":0}}}}
]
},
 {"data":{"values":[{}]},"mark":{"type":"text","text":"]","fontSize":28,"baseline":"middle","align":"center"},
  "encoding":{"x":{"datum":97.5,"type":"quantitative","axis":{"orient":"top","offset":-12.7,"values":[-70,-60,-50,-40,-30,-20,-10,0,10,20,30,40,50,60,70,80],"labelExpr":"(datum.value % 20 == 0 && datum.value >= -60) ? ''+datum.value : ''","labelFontSize":15,"labelOffset":-2,"tickSize":3,"labelPadding":4,"title":"Voltage (mV)","titleFontSize":21,"titlePadding":8,"labelOverlap":false}},
  "y":{"datum":-4.35,"type":"quantitative","axis":{"values":[-4,-3,-2,-1,0],"labelExpr":"''+datum.value","labelFontSize":16,"tickSize":4,"labelPadding":2,"title":"Current (nA)","titleFontSize":21,"titlePadding":8}}}},
 {"data":{"values":[{}]},"mark":{"type":"text","text":"**","fontSize":22,"fontWeight":"bold","baseline":"middle","align":"center"},
  "encoding":{"x":{"datum":110,"type":"quantitative","axis":{"orient":"top","offset":-12.7,"values":[-70,-60,-50,-40,-30,-20,-10,0,10,20,30,40,50,60,70,80],"labelExpr":"(datum.value % 20 == 0 && datum.value >= -60) ? ''+datum.value : ''","labelFontSize":15,"labelOffset":-2,"tickSize":3,"labelPadding":4,"title":"Voltage (mV)","titleFontSize":21,"titlePadding":8,"labelOverlap":false}},
  "y":{"datum":-4.4,"type":"quantitative","axis":{"values":[-4,-3,-2,-1,0],"labelExpr":"''+datum.value","labelFontSize":16,"tickSize":4,"labelPadding":2,"title":"Current (nA)","titleFontSize":21,"titlePadding":8}}}}
]
}
]
}
]
}
